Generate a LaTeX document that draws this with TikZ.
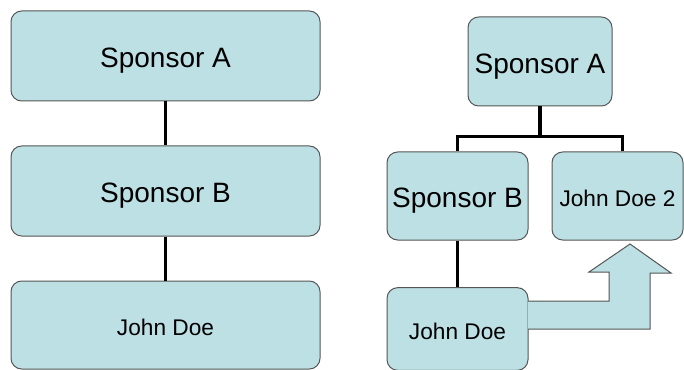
\documentclass[tikz,border=0pt]{standalone}
\usepackage{fontspec}
\setmainfont{Liberation Sans}
\usepackage{tikz}

\begin{document}
\begin{tikzpicture}[x=0.75pt,y=0.75pt,yscale=-1,xscale=1,
  sbox/.style={draw={rgb, 255:red, 85; green, 85; blue, 85 },fill={rgb, 255:red, 188; green, 224; blue, 228 },line width=0.75,rounded corners=8pt,inner sep=0pt},
  big/.style={font=\fontsize{21}{24}\selectfont,text height=18pt,text depth=0pt},
  small/.style={font=\fontsize{17}{20}\selectfont,text height=15pt,text depth=0pt},
  link/.style={line width=2.4,color=black}]
\useasboundingbox (0,0) rectangle (684,370);

%Shape: Rounded Rect [left chain]
\node (spa) [sbox,big,minimum width=231.75pt,minimum height=67.5pt] at (165.5,56) {Sponsor A};
\node (spb) [sbox,big,minimum width=231.75pt,minimum height=67.5pt] at (165.5,191) {Sponsor B};
\node (jd) [sbox,small,minimum width=231.75pt,minimum height=66pt] at (165.5,325) {John Doe};

%Shape: Rounded Rect [right tree]
\node (rspa) [sbox,big,minimum width=108pt,minimum height=66.75pt] at (540,61.5) {Sponsor A};
\node (rspb) [sbox,big,minimum width=105.75pt,minimum height=66pt] at (457.5,196) {Sponsor B};
\node (jdtwo) [sbox,small,minimum width=98.25pt,minimum height=66pt] at (617.5,196) {John Doe 2};
\node (rjd) [sbox,small,minimum width=105.75pt,minimum height=62pt] at (457.5,329) {John Doe};

%Straight Lines
\draw [link] (spa) -- (spb);
\draw [link] (spb) -- (jd);
\draw [link] (rspa.south) -- ++(0,30) -| (rspb.north);
\draw [link] (rspa.south) -- ++(0,30) -| ([xshift=4pt]jdtwo.north);
\draw [link] (rspb) -- (rjd);

%Shape: Bent Up Arrow
\draw [draw={rgb, 255:red, 85; green, 85; blue, 85 },fill={rgb, 255:red, 188; green, 224; blue, 228 },line width=0.75] (528,301) -- (609,301) -- (609,272) -- (589,272) -- (630,244) -- (671,273) -- (650,273) -- (650,329) -- (528,329) ;

\end{tikzpicture}
\end{document}
